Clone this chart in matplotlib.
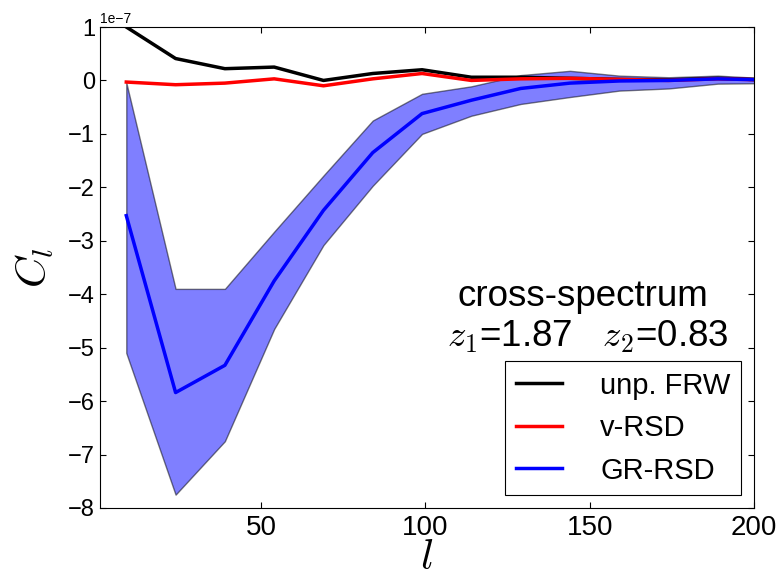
import numpy as np
import matplotlib
matplotlib.use("Agg")
import matplotlib.pyplot as plt

plt.rcParams['font.family'] = ['Liberation Sans', 'DejaVu Sans']
plt.rcParams['mathtext.fontset'] = 'cm'
plt.rcParams['xtick.direction'] = 'in'
plt.rcParams['ytick.direction'] = 'in'
plt.rcParams['xtick.top'] = True
plt.rcParams['ytick.right'] = True

# ---- data (C_l in units of 1e-7) ----
ell = [9, 24, 39, 54, 69, 84, 99, 114, 129, 144, 159, 174, 189, 204]
cl_frw = [1.0, 0.41, 0.22, 0.25, 0.0, 0.13, 0.20, 0.06, 0.06, 0.04, 0.02, 0.01, 0.04, 0.01]
cl_vrsd = [-0.03, -0.08, -0.05, 0.03, -0.10, 0.03, 0.13, 0.0, 0.03, 0.04, 0.02, 0.0, 0.03, 0.01]
cl_grrsd = [-2.53, -5.84, -5.33, -3.75, -2.43, -1.35, -0.62, -0.37, -0.15, -0.05, -0.01, 0.0, 0.03, 0.01]
gr_upper = [-0.04, -3.9, -3.9, -2.83, -1.78, -0.75, -0.25, -0.11, 0.10, 0.18, 0.09, 0.06, 0.09, 0.04]
gr_lower = [-5.1, -7.75, -6.75, -4.65, -3.08, -1.97, -1.0, -0.66, -0.44, -0.31, -0.19, -0.15, -0.06, -0.05]

scale = 1e-7
ell = np.array(ell)

fig = plt.figure(figsize=(7.76, 5.81), dpi=100)
ax = fig.add_axes([100/776, 1 - 508/581, 654/776, 481/581])

ax.fill_between(ell, np.array(gr_lower) * scale, np.array(gr_upper) * scale,
                facecolor='blue', edgecolor='black', alpha=0.5, linewidth=1)
ax.plot(ell, np.array(cl_frw) * scale, color='black', lw=2.5, label='unp. FRW')
ax.plot(ell, np.array(cl_vrsd) * scale, color='red', lw=2.5, label='v-RSD')
ax.plot(ell, np.array(cl_grrsd) * scale, color='blue', lw=2.5, label='GR-RSD')

ax.set_xlim(1, 200)
ax.set_ylim(-8e-7, 1e-7)
ax.set_xticks([50, 100, 150, 200])
ax.set_yticks(np.arange(-8, 2) * scale)
ax.tick_params(length=4, width=0.8)
ax.tick_params(axis='x', labelsize=20, pad=5)
ax.tick_params(axis='y', labelsize=17)
ax.yaxis.get_offset_text().set_fontsize(10)

ax.set_xlabel('$l$', fontsize=31, labelpad=-2)
ax.set_ylabel('$C_l$', fontsize=31, labelpad=9)

ax.text(0.546, 0.42, 'cross-spectrum', transform=ax.transAxes, fontsize=26.5)
ax.text(0.53, 0.335, r'$z_1$=1.87   $z_2$=0.83', transform=ax.transAxes, fontsize=26.5)

leg = ax.legend(loc='lower right', fontsize=21, fancybox=False, edgecolor='black',
                framealpha=1, handlelength=1.6, handletextpad=1.3,
                borderpad=0.35, borderaxespad=0.45, labelspacing=0.5)
leg.get_frame().set_linewidth(0.8)

fig.savefig('out.png', dpi=100)
